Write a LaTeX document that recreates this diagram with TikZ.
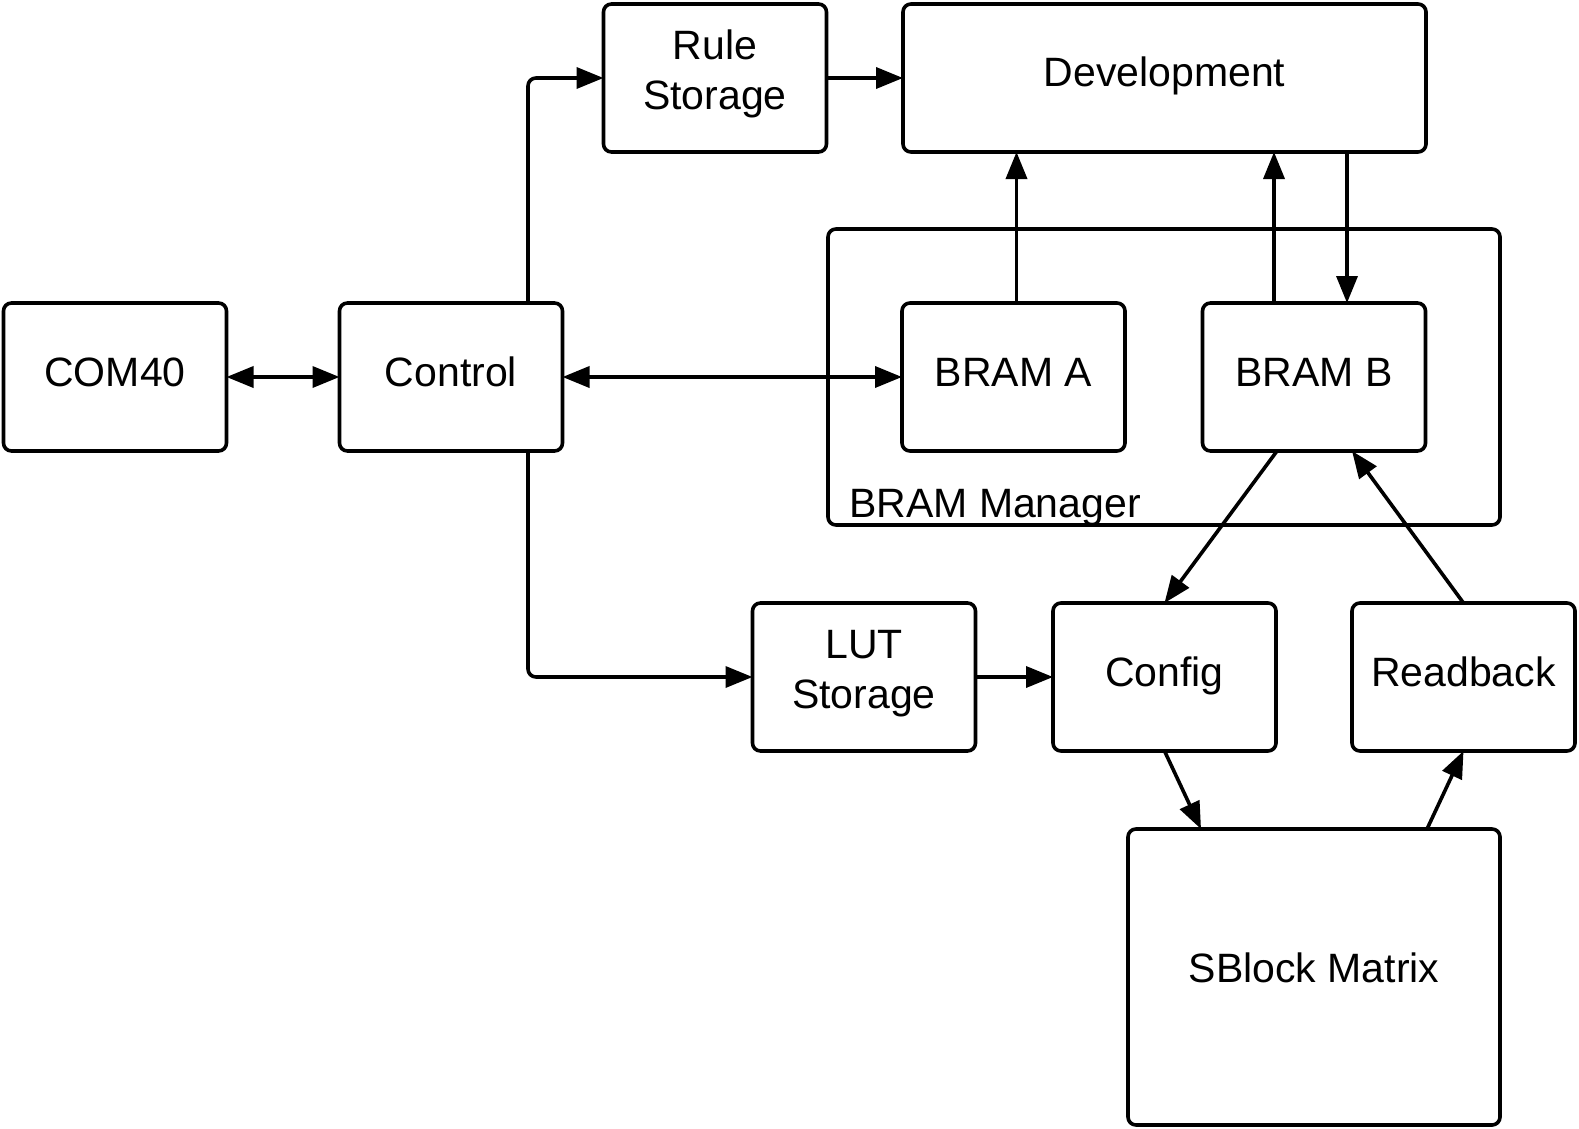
\documentclass[tikz,border=0pt]{standalone}
\usepackage{fontspec}
\setmainfont{Liberation Sans}
\usetikzlibrary{arrows.meta,calc}
\begin{document}
\begin{tikzpicture}[x=1pt,y=-1pt,
  box/.style={draw,line width=3.6pt,rounded corners=8pt,outer sep=0pt,inner sep=0pt,
    minimum width=223pt,minimum height=148pt},
  txt/.style={inner sep=0pt,align=center,font=\fontsize{41}{50}\selectfont},
  arr/.style={line width=3.6pt,-{Triangle[length=27pt,width=21pt]}},
  darr/.style={line width=3.6pt,{Triangle[length=27pt,width=21pt]}-{Triangle[length=27pt,width=21pt]}}]
\useasboundingbox (0,0) rectangle (1579,1129);
% container
\node[box,minimum width=672pt,minimum height=296pt] (mgr) at (1164,377) {};
\node[txt,anchor=base west] (mgrlabel) at (849,517) {BRAM Manager};
% boxes
\node[box] (com) at (115,377) {};
\node[box] (control) at (451,377) {};
\node[box] (rule) at (715,78) {};
\node[box,minimum width=523pt] (dev) at (1164.5,78) {};
\node[box] (brama) at (1013.5,377) {};
\node[box] (bramb) at (1314,377) {};
\node[box] (lut) at (864,677) {};
\node[box] (config) at (1164.5,677) {};
\node[box] (readback) at (1463.5,677) {};
\node[box,minimum width=372pt,minimum height=296pt] (sblock) at (1314,977) {};
% texts
\node[txt] (comT) at ($(com)+(0,-5)$) {COM40};
\node[txt] (controlT) at ($(control)+(0,-5)$) {Control};
\node[txt] (ruleT) at ($(rule)+(0,-4.5)$) {Rule\\Storage};
\node[txt] (devT) at ($(dev)+(0,-2)$) {Development};
\node[txt] (bramaT) at ($(brama)+(0,-5)$) {BRAM A};
\node[txt] (brambT) at ($(bramb)+(0,-5)$) {BRAM B};
\node[txt] (lutT) at ($(lut)+(0,-3)$) {LUT\\Storage};
\node[txt] (configT) at ($(config)+(0,-1)$) {Config};
\node[txt] (readbackT) at ($(readback)+(0,-5)$) {Readback};
\node[txt] (sblockT) at ($(sblock)+(0,-9)$) {SBlock Matrix};
% connectors
\draw[darr] (com.east) -- (control.west);
\draw[darr] (control.east) -- (brama.west);
\draw[arr,rounded corners=8pt] ([xshift=77pt]control.north) |- (rule.west);
\draw[arr] (rule.east) -- (dev.west);
\draw[arr] ([xshift=3pt]brama.north) -- ([xshift=3pt]brama.north |- dev.south);
\draw[arr] ([xshift=-40pt]bramb.north) -- ([xshift=-40pt]bramb.north |- dev.south);
\draw[arr] ([xshift=33pt]bramb.north |- dev.south) -- ([xshift=33pt]bramb.north);
\draw[arr,rounded corners=8pt] ([xshift=77pt]control.south) |- (lut.west);
\draw[arr] (lut.east) -- (config.west);
\draw[arr] ([xshift=-37pt]bramb.south) -- (config.north);
\draw[arr] (readback.north) -- ([xshift=38pt]bramb.south);
\draw[arr] (config.south) -- ([xshift=-113pt]sblock.north);
\draw[arr] ([xshift=113pt]sblock.north) -- (readback.south);
\end{tikzpicture}
\end{document}
